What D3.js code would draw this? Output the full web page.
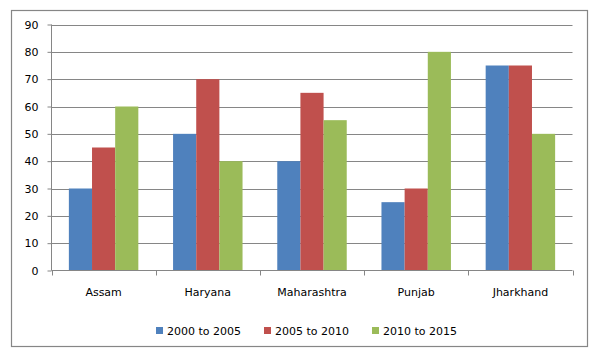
<!DOCTYPE html>
<html><head><meta charset="utf-8">
<script src="https://cdn.jsdelivr.net/npm/d3@7"></script>
<style>body{margin:0;background:#fff}svg{display:block}text{font-family:"DejaVu Sans",sans-serif;font-size:11px;fill:#000}</style>
</head><body><svg id="c" width="604" height="360"></svg>
<script>
const categories = ["Assam","Haryana","Maharashtra","Punjab","Jharkhand"];
const seriesNames = ["2000 to 2005","2005 to 2010","2010 to 2015"];
const s2000 = [30,50,40,25,75];
const s2005 = [45,70,65,30,75];
const s2010 = [60,40,55,80,50];
const yTicks = [0,10,20,30,40,50,60,70,80,90];
const colors = ["#4F81BD","#C0504D","#9BBB59"];
const seriesValues = [s2000,s2005,s2010];

const svg = d3.select("#c");
const L=51.5, R=572.5, T=24.5, B=270.5;
svg.append("rect").attr("x",11.5).attr("y",10.5).attr("width",576).attr("height",336)
  .attr("fill","#fff").attr("stroke","#868686").attr("stroke-width",1.2);

const y = d3.scaleLinear().domain([0,90]).range([B,T]);
const x0 = d3.scaleBand().domain(categories).range([L,R]).paddingInner(0).paddingOuter(0);
const x1 = d3.scaleBand().domain(seriesNames).range([0,x0.bandwidth()]).paddingInner(0).paddingOuter(0.75);

// gridlines
svg.append("g").selectAll("line").data(yTicks.filter(d=>d>0)).join("line")
  .attr("x1",L).attr("x2",R).attr("y1",d=>Math.round(y(d))+0.5).attr("y2",d=>Math.round(y(d))+0.5)
  .attr("stroke","#868686").attr("stroke-width",1);

// bars
const g = svg.append("g");
categories.forEach((c,i)=>{
  seriesNames.forEach((s,j)=>{
    g.append("rect").attr("x",x0(c)+x1(s)).attr("width",x1.bandwidth())
      .attr("y",y(seriesValues[j][i])).attr("height",B-y(seriesValues[j][i]))
      .attr("fill",colors[j]);
  });
});

// y axis
const ya = d3.axisLeft(y).tickValues(yTicks).tickSize(4).tickPadding(9).tickFormat(d3.format("d"));
const yg = svg.append("g").attr("transform",`translate(${L},0)`).call(ya);
yg.select(".domain").attr("stroke","#868686").attr("d",`M0,${T}V${B}`);
yg.selectAll(".tick line").attr("stroke","#868686");
yg.selectAll("text").style("font-size","11px").attr("fill","#000");

// x axis
const xa = d3.axisBottom(x0).tickSize(0).tickPadding(18);
const xg = svg.append("g").attr("transform",`translate(0,${B})`).call(xa);
xg.select(".domain").attr("stroke","#868686").attr("d",`M${L},0H${R}`);
xg.selectAll("text").style("font-size","11px").attr("fill","#000");
const bounds = categories.map(c=>x0(c)).concat([R]);
xg.selectAll(".cat").data(bounds).join("line")
  .attr("x1",d=>Math.round(d)+0.5).attr("x2",d=>Math.round(d)+0.5).attr("y1",0).attr("y2",5)
  .attr("stroke","#868686");

// legend
const lg = svg.append("g");
const lx = [156,264,372];
seriesNames.forEach((s,j)=>{
  lg.append("rect").attr("x",lx[j]).attr("y",327).attr("width",7).attr("height",7).attr("fill",colors[j]);
  lg.append("text").attr("x",lx[j]+11).attr("y",335).text(s);
});
</script></body></html>
